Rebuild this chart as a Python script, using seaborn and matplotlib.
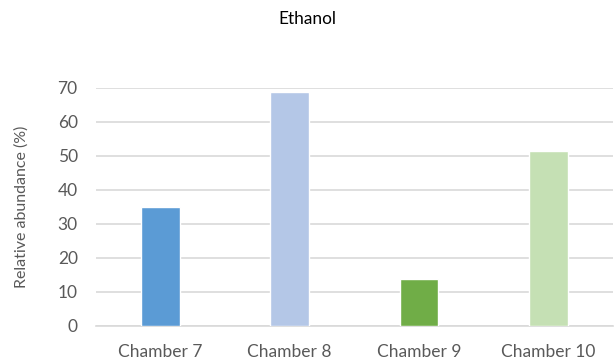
import matplotlib
matplotlib.use("Agg")
import matplotlib.pyplot as plt
import seaborn as sns

chambers = ["Chamber 7", "Chamber 8", "Chamber 9", "Chamber 10"]
abundance = [35.0, 68.7, 13.8, 51.4]
bar_colors = ["#5B9BD5", "#B4C7E7", "#70AD47", "#C5E0B4"]
y_ticks = [0, 10, 20, 30, 40, 50, 60, 70]

sns.set_theme(style="white")
plt.rcParams['font.family'] = ['Lato', 'DejaVu Sans']

fig = plt.figure(figsize=(6.14, 3.61), dpi=100)
ax = fig.add_axes([0.156, 0.097, 0.842, 0.66])

sns.barplot(x=chambers, y=abundance, hue=chambers, palette=bar_colors,
            width=0.3, saturation=1, legend=False, ax=ax, zorder=3)

text_col = "#595959"
ax.set_xlim(-0.5, 3.5)
ax.set_ylim(0, 70)
ax.set_yticks(y_ticks)
ax.yaxis.grid(True, color="#D9D9D9", linewidth=1.2, zorder=0)
ax.set_axisbelow(True)
for s in ["top", "right", "left"]:
    ax.spines[s].set_visible(False)
ax.spines["bottom"].set_color("#D9D9D9")
ax.spines["bottom"].set_linewidth(1.2)
ax.tick_params(axis="both", length=0, labelsize=12.5, colors=text_col)
ax.tick_params(axis="y", pad=13)
ax.tick_params(axis="x", pad=13)
ax.set_ylabel("Relative abundance (%)", fontsize=11.5, color=text_col, labelpad=21)
ax.set_xlabel("")
fig.text(0.5, 0.948, "Ethanol", ha="center", va="center", fontsize=12.4, color="#000000")

fig.savefig("out.png", dpi=100)
plt.close(fig)
